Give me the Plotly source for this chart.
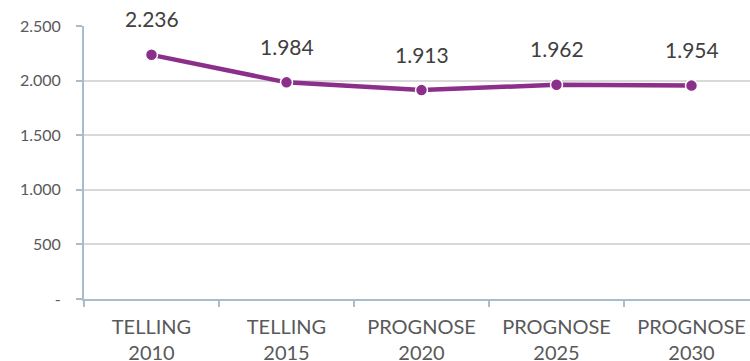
import plotly.graph_objects as go

categories = ["TELLING<br>2010", "TELLING<br>2015", "PROGNOSE<br>2020", "PROGNOSE<br>2025", "PROGNOSE<br>2030"]
values = [2236, 1984, 1913, 1962, 1954]
value_labels = ["2.236", "1.984", "1.913", "1.962", "1.954"]
y_ticks = [0, 500, 1000, 1500, 2000, 2500]
y_tick_labels = ["-", "500", "1.000", "1.500", "2.000", "2.500"]

xs = list(range(len(categories)))
purple = "#8B2F8B"
axis_col = "#A9BCCC"
font_family = "Lato, 'Open Sans', sans-serif"

fig = go.Figure()
fig.add_trace(go.Scatter(
    x=xs, y=values, mode="lines+markers",
    line=dict(color=purple, width=4.5),
    marker=dict(size=12, color=purple, line=dict(color="white", width=1.5)),
    cliponaxis=False, hoverinfo="skip",
))

for x, v, t in zip(xs, values, value_labels):
    fig.add_annotation(x=x, y=v, text=t, showarrow=False, yshift=36,
                       font=dict(family=font_family, size=21, color="#404040"))

fig.update_layout(
    width=750, height=361,
    margin=dict(l=84, r=0, t=26, b=62),
    paper_bgcolor="white", plot_bgcolor="white",
    showlegend=False,
    font=dict(family=font_family, color="#595959", size=16),
)
fig.update_xaxes(
    range=[-0.5, -0.5 + 666 / 135], tickvals=xs, ticktext=categories,
    ticks="", showgrid=False, zeroline=False, automargin=False,
    showline=True, linecolor=axis_col, linewidth=2,
    tickfont=dict(size=20, color="#595959"), ticklabelstandoff=9,
    minor=dict(tickmode="linear", tick0=-0.5, dtick=1, ticks="outside",
               ticklen=6, tickcolor=axis_col, tickwidth=2, showgrid=False),
)
fig.update_yaxes(
    range=[0, 2500], tickvals=y_ticks, ticktext=y_tick_labels,
    ticks="outside", ticklen=6, tickcolor=axis_col, tickwidth=2,
    showline=True, linecolor=axis_col, linewidth=2, automargin=False,
    gridcolor="#D9D9D9", gridwidth=1.5, zeroline=False,
    tickfont=dict(size=16, color="#595959"), ticklabelstandoff=12,
)

fig.write_html("out.html")
